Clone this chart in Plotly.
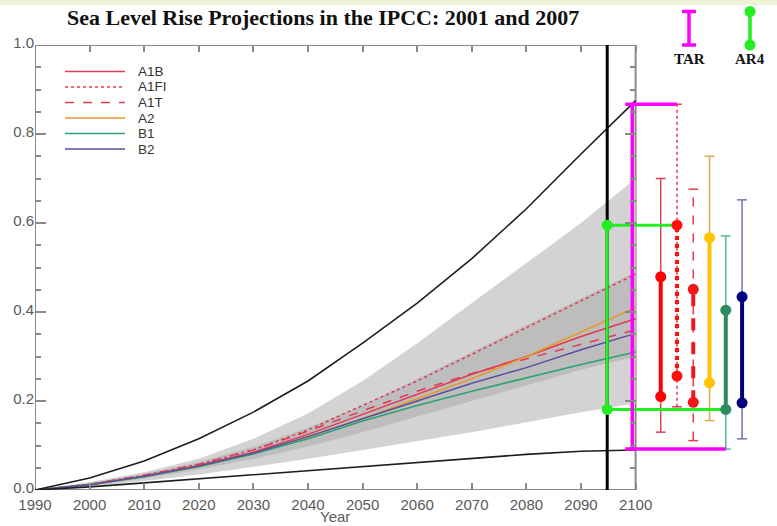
import plotly.graph_objects as go

# ---------------- data ----------------
years = [1990, 2000, 2010, 2020, 2030, 2040, 2050, 2060, 2070, 2080, 2090, 2100]

a1b  = [0, 0.012, 0.031, 0.055, 0.085, 0.125, 0.170, 0.215, 0.260, 0.300, 0.345, 0.385]
a1fi = [0, 0.013, 0.033, 0.058, 0.090, 0.135, 0.190, 0.245, 0.305, 0.365, 0.425, 0.485]
a1t  = [0, 0.013, 0.033, 0.058, 0.090, 0.132, 0.178, 0.222, 0.262, 0.295, 0.328, 0.360]
a2   = [0, 0.012, 0.030, 0.053, 0.082, 0.120, 0.160, 0.205, 0.250, 0.300, 0.355, 0.410]
b1   = [0, 0.012, 0.030, 0.053, 0.081, 0.115, 0.155, 0.190, 0.222, 0.252, 0.282, 0.310]
b2   = [0, 0.012, 0.031, 0.054, 0.083, 0.120, 0.160, 0.200, 0.240, 0.275, 0.315, 0.352]

envelope_high = [0, 0.027, 0.065, 0.115, 0.175, 0.245, 0.330, 0.420, 0.520, 0.632, 0.755, 0.875]
envelope_low  = [0, 0.007, 0.016, 0.025, 0.034, 0.043, 0.052, 0.061, 0.070, 0.080, 0.087, 0.090]

band_high = [0, 0.018, 0.040, 0.070, 0.115, 0.172, 0.245, 0.330, 0.420, 0.510, 0.600, 0.700]
band_low  = [0, 0.008, 0.020, 0.035, 0.052, 0.070, 0.090, 0.110, 0.130, 0.152, 0.175, 0.195]
core_high = [0, 0.015, 0.036, 0.063, 0.097, 0.140, 0.190, 0.250, 0.310, 0.370, 0.430, 0.490]
core_low  = [0, 0.010, 0.026, 0.046, 0.070, 0.098, 0.130, 0.165, 0.200, 0.235, 0.270, 0.300]

scenarios = ["A1B", "A1FI", "A1T", "A2", "B1", "B2"]
ar4_low  = [0.210, 0.256, 0.197, 0.241, 0.181, 0.196]
ar4_high = [0.479, 0.595, 0.451, 0.567, 0.404, 0.434]
tar_low  = [0.130, 0.187, 0.111, 0.156, 0.092, 0.115]
tar_high = [0.700, 0.867, 0.676, 0.750, 0.571, 0.652]

tar_range = [0.092, 0.867]
ar4_range = [0.181, 0.595]

x_ticks = [1990, 2000, 2010, 2020, 2030, 2040, 2050, 2060, 2070, 2080, 2090, 2100]
y_ticks = [0.0, 0.2, 0.4, 0.6, 0.8, 1.0]

title_text = "Sea Level Rise Projections in the IPCC: 2001 and 2007"

# ---------------- styles ----------------
W, H = 777, 526
ML, MR, MT, MB = 35, 0, 45, 36
X0, X1 = 1990, 1990 + (W - ML - MR) / 5.46
series_vals = [a1b, a1fi, a1t, a2, b1, b2]
line_col = ["#e23a52", "#e23a52", "#e23a52", "#e49a2c", "#2aa36f", "#5b4f9e"]
line_dash = ["solid", "dot", "dash", "solid", "solid", "solid"]
thick_col = ["#ff0000", "#ff1010", "#f01818", "#ffc400", "#2e8b60", "#000080"]
thin_col = ["#e04050", "#e83a4a", "#e83a4a", "#d8aa55", "#52b893", "#7272b4"]

AR4_GREEN = "#22ee22"
MAGENTA = "#ff00ff"
AXIS_GREY = "#8a8a8a"
TXT_GREY = "#5a5a5a"

def px_x(px):
    return (px - ML) / (W - ML - MR)

def px_y(py):
    return (H - MB - py) / (H - MT - MB)

black_x = 2094.8
tar_x = 2099.4
bar_x = [2104.6 + 2.98 * i for i in range(len(scenarios))]
cap = 0.9

fig = go.Figure()

# grey uncertainty bands
fig.add_trace(go.Scatter(x=years, y=band_low, mode="lines", line=dict(width=0),
                         showlegend=False, hoverinfo="skip"))
fig.add_trace(go.Scatter(x=years, y=band_high, mode="lines", line=dict(width=0),
                         fill="tonexty", fillcolor="#d3d3d3", showlegend=False, hoverinfo="skip"))
fig.add_trace(go.Scatter(x=years, y=core_low, mode="lines", line=dict(width=0),
                         showlegend=False, hoverinfo="skip"))
fig.add_trace(go.Scatter(x=years, y=core_high, mode="lines", line=dict(width=0),
                         fill="tonexty", fillcolor="#bdbdbd", showlegend=False, hoverinfo="skip"))

# scenario projections
for name, vals, c, d in zip(scenarios, series_vals, line_col, line_dash):
    fig.add_trace(go.Scatter(x=years, y=vals, mode="lines", name=name,
                             line=dict(color=c, width=1.5, dash=d), showlegend=False))

# black envelope
for vals in (envelope_high, envelope_low):
    fig.add_trace(go.Scatter(x=years, y=vals, mode="lines", line=dict(color="#1e1e1e", width=1.6),
                             showlegend=False, hoverinfo="skip"))

# black vertical marker line
fig.add_trace(go.Scatter(x=[black_x, black_x], y=[0, 1.0], mode="lines",
                         line=dict(color="#000000", width=3), showlegend=False, hoverinfo="skip"))

# TAR scenario whiskers (thin, with caps)
for i, s in enumerate(scenarios):
    xs = [bar_x[i] - cap, bar_x[i] + cap, None, bar_x[i] - cap, bar_x[i] + cap]
    ys = [tar_high[i], tar_high[i], None, tar_low[i], tar_low[i]]
    fig.add_trace(go.Scatter(x=xs, y=ys, mode="lines", line=dict(color=thin_col[i], width=1.5),
                             showlegend=False, hoverinfo="skip"))
    fig.add_trace(go.Scatter(x=[bar_x[i], bar_x[i]], y=[tar_low[i], tar_high[i]], mode="lines",
                             line=dict(color=thin_col[i], width=1.5, dash=line_dash[i]),
                             showlegend=False, hoverinfo="skip"))

# AR4 overall bracket (green)
i_fi = scenarios.index("A1FI")
i_b1 = scenarios.index("B1")
fig.add_trace(go.Scatter(
    x=[bar_x[i_fi], black_x, black_x, bar_x[i_b1] - 0.6],
    y=[ar4_range[1], ar4_range[1], ar4_range[0], ar4_range[0]],
    mode="lines", line=dict(color=AR4_GREEN, width=3), showlegend=False, hoverinfo="skip"))
fig.add_trace(go.Scatter(x=[black_x, black_x], y=[ar4_range[1], ar4_range[0]], mode="markers",
                         marker=dict(color=AR4_GREEN, size=11), showlegend=False, hoverinfo="skip"))

# TAR overall bracket (magenta)
fig.add_trace(go.Scatter(
    x=[bar_x[i_fi], tar_x - 1.3, None, tar_x, tar_x, None, tar_x - 1.3, bar_x[i_b1]],
    y=[tar_range[1], tar_range[1], None, tar_range[1], tar_range[0], None, tar_range[0], tar_range[0]],
    mode="lines", line=dict(color=MAGENTA, width=3.5), showlegend=False, hoverinfo="skip"))

# AR4 scenario ranges (thick with dots)
for i, s in enumerate(scenarios):
    fig.add_trace(go.Scatter(x=[bar_x[i], bar_x[i]], y=[ar4_low[i], ar4_high[i]],
                             mode="lines", line=dict(color=thick_col[i], width=4, dash=line_dash[i]),
                             showlegend=False, hoverinfo="skip"))
    fig.add_trace(go.Scatter(x=[bar_x[i], bar_x[i]], y=[ar4_low[i], ar4_high[i]],
                             mode="markers", marker=dict(color=thick_col[i], size=11),
                             showlegend=False, hoverinfo="skip"))

# hidden trace to carry the right-hand mirrored axis
fig.add_trace(go.Scatter(x=[X0], y=[0], yaxis="y2", mode="markers", marker=dict(opacity=0),
                         showlegend=False, hoverinfo="skip"))

shapes = []
annotations = []

# plot frame (only to 2100)
shapes.append(dict(type="rect", xref="x", yref="y", x0=1990, x1=2100, y0=0, y1=1.0,
                   line=dict(color=AXIS_GREY, width=2), layer="below"))
# top strip
shapes.append(dict(type="rect", xref="paper", yref="paper", x0=px_x(0), x1=px_x(W),
                   y0=px_y(5), y1=px_y(0), line=dict(width=0), fillcolor="#eef3d6", layer="below"))

# in-plot legend
leg_y0 = 71.5
leg_dy = 15.5
for i, s in enumerate(scenarios):
    py = leg_y0 + i * leg_dy
    shapes.append(dict(type="line", xref="paper", yref="paper", x0=px_x(65), x1=px_x(125),
                       y0=px_y(py), y1=px_y(py), line=dict(color=line_col[i], width=1.5, dash=line_dash[i])))
    annotations.append(dict(text=s, xref="paper", yref="paper", x=px_x(136), y=px_y(py),
                            xanchor="left", yanchor="middle", showarrow=False,
                            font=dict(family="Liberation Sans, Arial, sans-serif", size=13.5, color="#333333")))

# TAR / AR4 key icons
tx, ax4 = px_x(689), px_x(750)
ytop, ybot = px_y(11.5), px_y(45)
shapes.append(dict(type="line", xref="paper", yref="paper", x0=tx, x1=tx, y0=ybot, y1=ytop,
                   line=dict(color=MAGENTA, width=3.5)))
for yy in (ytop, ybot):
    shapes.append(dict(type="line", xref="paper", yref="paper", x0=px_x(682), x1=px_x(696), y0=yy, y1=yy,
                       line=dict(color=MAGENTA, width=3.5)))
shapes.append(dict(type="line", xref="paper", yref="paper", x0=ax4, x1=ax4, y0=ybot, y1=ytop,
                   line=dict(color=AR4_GREEN, width=3.5)))
for yy in (ytop, ybot):
    shapes.append(dict(type="circle", xref="paper", yref="paper", xsizemode="pixel", ysizemode="pixel",
                       xanchor=ax4, yanchor=yy, x0=-5.5, x1=5.5, y0=-5.5, y1=5.5,
                       fillcolor=AR4_GREEN, line=dict(width=0)))
for lbl, xx in (("TAR", tx), ("AR4", ax4)):
    annotations.append(dict(text="<b>%s</b>" % lbl, xref="paper", yref="paper", x=xx, y=px_y(59),
                            xanchor="center", yanchor="middle", showarrow=False,
                            font=dict(family="Liberation Serif, Times New Roman, serif", size=15, color="#111111")))

# title
annotations.append(dict(text="<b>%s</b>" % title_text, xref="paper", yref="paper", x=px_x(323), y=px_y(17),
                        xanchor="center", yanchor="middle", showarrow=False,
                        font=dict(family="Liberation Serif, Times New Roman, serif", size=22, color="#111111")))
# x label
annotations.append(dict(text="Year", xref="x", yref="paper", x=2045, y=px_y(516),
                        xanchor="center", yanchor="middle", showarrow=False,
                        font=dict(family="Liberation Sans, Arial, sans-serif", size=15, color=TXT_GREY)))

tick_font = dict(family="Liberation Sans, Arial, sans-serif", size=15, color=TXT_GREY)

fig.update_layout(
    width=W, height=H,
    margin=dict(l=ML, r=MR, t=MT, b=MB, pad=0),
    paper_bgcolor="white", plot_bgcolor="white",
    showlegend=False,
    shapes=shapes, annotations=annotations,
    xaxis=dict(range=[X0, X1], tickvals=x_ticks, ticks="inside", ticklen=7, tickwidth=1.5,
               tickcolor=AXIS_GREY, showgrid=False, zeroline=False, showline=False, mirror="ticks",
               tickfont=tick_font, ticklabelstandoff=4),
    yaxis=dict(range=[0, 1.0], tickvals=y_ticks, tickformat=".1f", ticks="inside", ticklen=11,
               tickwidth=1.5, tickcolor=AXIS_GREY, showgrid=False, zeroline=False, showline=False,
               tickfont=tick_font, ticklabelshift=-2,
               minor=dict(dtick=0.05, ticks="inside", ticklen=6, tickcolor=AXIS_GREY, tickwidth=1.5)),
    yaxis2=dict(range=[0, 1.0], overlaying="y", side="right", anchor="free",
                position=(2100 - X0) / (X1 - X0), tickvals=y_ticks, ticks="inside", ticklen=11,
                tickwidth=1.5, tickcolor=AXIS_GREY, showticklabels=False, showgrid=False,
                zeroline=False, showline=False,
                minor=dict(dtick=0.05, ticks="inside", ticklen=6, tickcolor=AXIS_GREY, tickwidth=1.5)),
)

fig.write_html("out.html", config={"displayModeBar": False},
               post_script="document.body.style.margin='0px';document.body.style.overflow='hidden';")
